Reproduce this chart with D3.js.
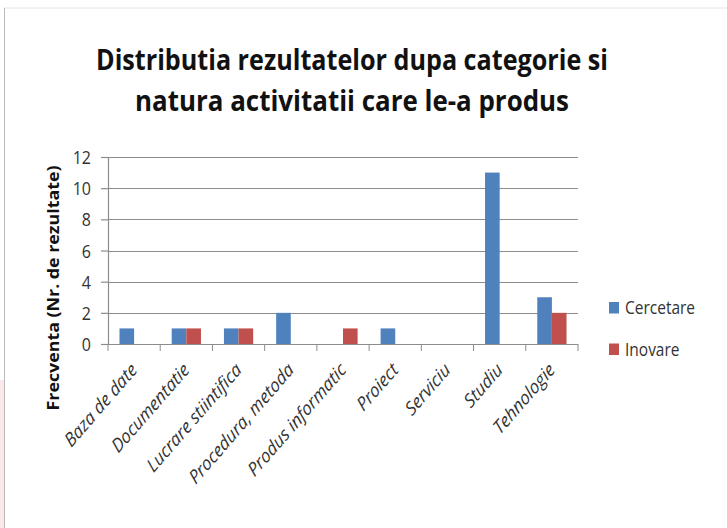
<!DOCTYPE html>
<html>
<head>
<meta charset="utf-8">
<script src="https://cdn.jsdelivr.net/npm/d3@7"></script>
<style>
  body { margin: 0; background: #fff; }
  text { font-family: "Open Sans", "Noto Sans", sans-serif; }
</style>
</head>
<body>
<svg id="chart" width="727" height="528"></svg>
<script>
// categories and values
var categories = ["Baza de date", "Documentatie", "Lucrare stiintifica", "Procedura, metoda",
  "Produs informatic", "Proiect", "Serviciu", "Studiu", "Tehnologie"];
var seriesNames = ["Cercetare", "Inovare"];
var cercetare = [1, 1, 1, 2, 0, 1, 0, 11, 3];
var inovare = [0, 1, 1, 0, 1, 0, 0, 0, 2];
var yTicks = [0, 2, 4, 6, 8, 10, 12];
var colors = ["#4f81bd", "#c0504d"];
var titleLines = ["Distributia rezultatelor dupa categorie si", "natura activitatii  care le-a produs"];

var stretch = 1.15; // the picture is a bit taller than wide

var svg = d3.select('#chart');

// frame edges
svg.append('line').attr('x1', 4).attr('x2', 727).attr('y1', 8).attr('y2', 8)
  .attr('stroke', '#e4e4e4');
svg.append('line').attr('x1', 4.5).attr('x2', 4.5).attr('y1', 8).attr('y2', 528)
  .attr('stroke', '#bbb');
svg.append('rect').attr('x', 0).attr('y', 380).attr('width', 4).attr('height', 148)
  .attr('fill', '#fbe9e9');

var margin = { left: 108, right: 149, top: 157, bottom: 184 },
  w = 727 - margin.left - margin.right,
  h = 528 - margin.top - margin.bottom;

var x = d3.scaleBand().domain(categories).range([0, w]);
var x1 = d3.scaleBand().domain(seriesNames).range([x.bandwidth() * 0.22, x.bandwidth() * 0.78]);
var y = d3.scaleLinear().domain([0, 12]).range([h, 0]);

var g = svg.append('g').attr('transform', 'translate(' + margin.left + ',' + margin.top + ')');

// gridlines
g.selectAll('.grid').data(yTicks.slice(1)).enter().append('line')
  .attr('x1', 0).attr('x2', w)
  .attr('y1', function(d) { return Math.round(y(d)) + 0.5; })
  .attr('y2', function(d) { return Math.round(y(d)) + 0.5; })
  .attr('stroke', '#8c8c8c').attr('stroke-width', 1.2);

// bars
var rows = categories.map(function(c, i) {
  return { cat: c, vals: [cercetare[i], inovare[i]] };
});
var grp = g.selectAll('.cat').data(rows).enter().append('g')
  .attr('transform', function(d) { return 'translate(' + x(d.cat) + ',0)'; });
grp.selectAll('rect').data(function(d) {
    return d.vals.map(function(v, j) { return { s: seriesNames[j], v: v, j: j }; });
  }).enter().append('rect')
  .attr('x', function(d) { return x1(d.s); })
  .attr('width', x1.bandwidth())
  .attr('y', function(d) { return y(d.v); })
  .attr('height', function(d) { return h - y(d.v); })
  .attr('fill', function(d) { return colors[d.j]; });

// y axis
var yAxis = d3.axisLeft(y).tickValues(yTicks).tickSize(7).tickPadding(10);
var ya = g.append('g').call(yAxis);
ya.select('.domain').attr('stroke', '#8c8c8c').attr('stroke-width', 1.2).attr('d', 'M0.5,0V' + h);
ya.selectAll('.tick line').attr('stroke', '#8c8c8c').attr('stroke-width', 1.2);
ya.selectAll('text').attr('font-size', 16).attr('fill', '#333')
  .attr('transform', 'scale(1,' + stretch + ')')
  .attr('dy', '0.36em');

// x axis
var xAxis = d3.axisBottom(x).tickSize(7).tickFormat('');
var xa = g.append('g').attr('transform', 'translate(0,' + h + ')').call(xAxis);
xa.select('.domain').attr('stroke', '#8c8c8c').attr('stroke-width', 1.2).attr('d', 'M0,0.5H' + w);
xa.selectAll('.tick line').attr('stroke', '#8c8c8c')
  .attr('transform', 'translate(' + (-x.bandwidth() / 2) + ',0)');
g.append('line').attr('x1', w).attr('x2', w).attr('y1', h).attr('y2', h + 7).attr('stroke', '#8c8c8c');

// rotated category labels
g.selectAll('.xl').data(categories).enter().append('text')
  .attr('transform', function(d) {
    return 'translate(' + (x(d) + x.bandwidth() / 2 + 4) + ',' + (h + 27) + ') scale(1,' + stretch + ') rotate(-45)';
  })
  .attr('text-anchor', 'end')
  .attr('font-size', 16.5).attr('font-style', 'italic').attr('fill', '#333')
  .text(function(d) { return d; });

// y axis title
svg.append('text')
  .attr('transform', 'translate(59,288) scale(1,' + stretch + ') rotate(-90)')
  .attr('text-anchor', 'middle')
  .attr('font-size', 15.5).attr('font-weight', 'bold').attr('fill', '#111')
  .text('Frecventa (Nr. de rezultate)');

// title
var tLen = [512, 434];
svg.selectAll('.title').data(titleLines).enter().append('text')
  .attr('transform', function(d, i) {
    return 'translate(352,' + (70 + i * 41) + ') scale(1,' + stretch + ')';
  })
  .attr('text-anchor', 'middle')
  .attr('font-size', 25).attr('font-weight', 'bold').attr('fill', '#111')
  .attr('textLength', function(d, i) { return tLen[i]; })
  .attr('lengthAdjust', 'spacingAndGlyphs')
  .text(function(d) { return d; });

// legend
var leg = svg.selectAll('.leg').data(seriesNames).enter().append('g')
  .attr('transform', function(d, i) { return 'translate(609,' + (302 + i * 41.5) + ')'; });
leg.append('rect').attr('width', 10).attr('height', 11.5)
  .attr('fill', function(d, i) { return colors[i]; });
leg.append('text')
  .attr('transform', 'translate(16,12) scale(1,' + stretch + ')')
  .attr('font-size', 15.5).attr('fill', '#333')
  .text(function(d) { return d; });
</script>
</body>
</html>
